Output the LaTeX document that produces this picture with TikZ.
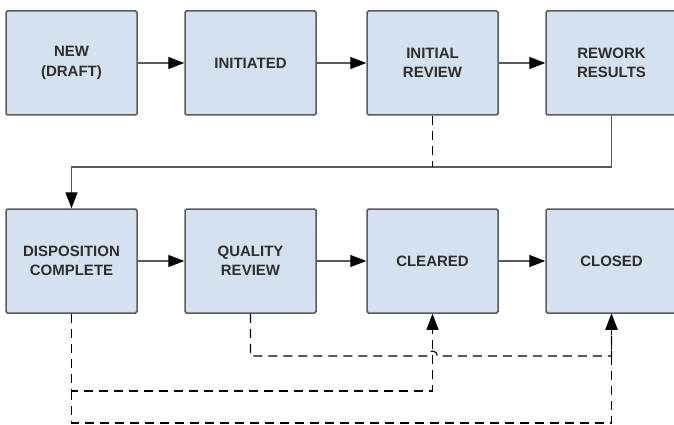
\documentclass[tikz,border=0pt]{standalone}
\usepackage{fontspec}
\setmainfont{Liberation Sans}
\usetikzlibrary{arrows.meta}

\definecolor{boxfill}{HTML}{D6E1EF}
\definecolor{boxline}{HTML}{5B5B5B}
\definecolor{boxtext}{HTML}{2E2E2E}

\tikzset{
  state/.style={draw=boxline, fill=boxfill, line width=1.5pt, rounded corners=1.5pt,
    minimum width=131pt, minimum height=104pt, inner sep=0pt, align=center,
    text=boxtext, font=\bfseries\fontsize{15}{19.5}\selectfont},
  tip/.style={-{Triangle[length=16pt,width=12pt,black]}},
  flow/.style={draw=boxline, line width=1.4pt},
  link/.style={draw=black, line width=1.1pt, dash pattern=on 9pt off 6pt},
}

\begin{document}
\begin{tikzpicture}[x=1pt,y=-1pt]
  \useasboundingbox (0,0) rectangle (674,425);
  \clip (0,0) rectangle (674,425);

  % top row
  \node[state] (new)       at (71.5,63)  {NEW\\(DRAFT)};
  \node[state] (initiated) at (250.5,63) {INITIATED};
  \node[state] (review)    at (432.5,63) {INITIAL\\REVIEW};
  \node[state] (rework)    at (611.5,63) {REWORK\\RESULTS};

  % bottom row
  \node[state] (disposition) at (71.5,261)  {DISPOSITION\\COMPLETE};
  \node[state] (quality)     at (250.5,261) {QUALITY\\REVIEW};
  \node[state] (cleared)     at (432.5,261) {CLEARED};
  \node[state] (closed)      at (611.5,261) {CLOSED};

  \coordinate (turn)  at (0,167);
  \coordinate (lane1) at (0,356);
  \coordinate (lane2) at (0,391);
  \coordinate (lane3) at (0,423);

  \draw[flow,tip] (new) -- (initiated);
  \draw[flow,tip] (initiated) -- (review);
  \draw[flow,tip] (review) -- (rework);
  \draw[flow,tip] (rework.south) -- (rework.south |- turn) -| (disposition.north);
  \draw[flow,tip] (disposition) -- (quality);
  \draw[flow,tip] (quality) -- (cleared);
  \draw[flow,tip] (cleared) -- (closed);

  % dashed paths
  \draw[link] (review.south) -- (review.south |- turn);
  \draw[link,tip] (quality.south) -- (quality.south |- lane1)
    -- ([xshift=-5pt]cleared.south |- lane1) arc[start angle=180, end angle=0, radius=5pt]
    -- (closed.south |- lane1) -- (closed.south);
  \draw[link,tip] (disposition.south) -- (disposition.south |- lane2) -| (cleared.south);
  \draw[link,tip] (disposition.south |- lane2) -- (disposition.south |- lane3) -| (closed.south);
\end{tikzpicture}
\end{document}
